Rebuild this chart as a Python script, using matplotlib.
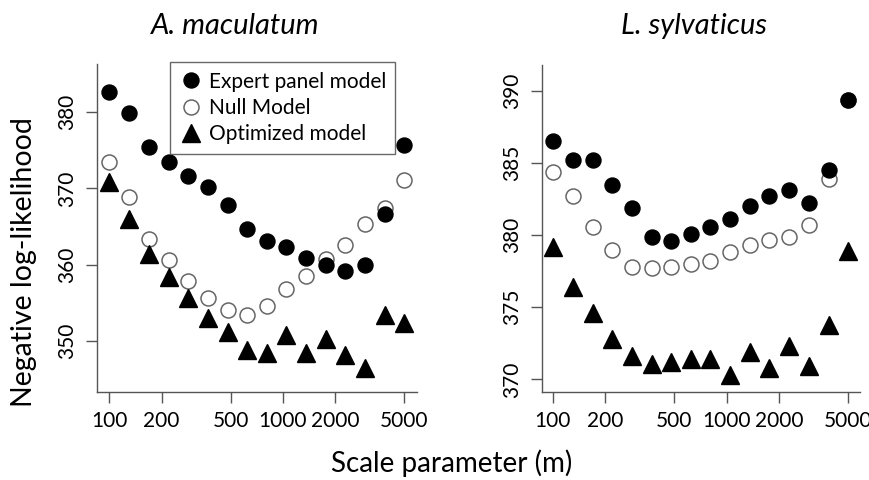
import matplotlib
matplotlib.use("Agg")
import matplotlib.pyplot as plt
from matplotlib.lines import Line2D

plt.rcParams['font.family'] = ['Lato', 'DejaVu Sans']

scale = [100, 130, 170, 220, 285, 370, 480, 620, 805, 1045, 1360, 1760, 2285, 2970, 3850, 5000]

am_expert = [382.6, 379.9, 375.4, 373.5, 371.6, 370.2, 367.8, 364.7, 363.1, 362.4, 360.9, 360.0, 359.2, 360.0, 366.7, 375.7]
am_null = [373.5, 368.9, 363.4, 360.6, 357.9, 355.7, 354.1, 353.5, 354.6, 356.8, 358.5, 360.8, 362.6, 365.3, 367.4, 371.1]
am_opt = [370.8, 366.0, 361.4, 358.4, 355.6, 353.1, 351.2, 348.9, 348.5, 350.8, 348.5, 350.3, 348.2, 346.5, 353.4, 352.4]

ls_expert = [386.5, 385.2, 385.2, 383.5, 381.9, 379.9, 379.6, 380.1, 380.6, 381.1, 382.0, 382.7, 383.1, 382.2, 384.5, 389.4]
ls_null = [384.4, 382.7, 380.6, 379.0, 377.8, 377.7, 377.8, 378.0, 378.2, 378.8, 379.3, 379.7, 379.9, 380.7, 383.9, 389.4]
ls_opt = [379.2, 376.4, 374.6, 372.8, 371.6, 371.1, 371.2, 371.4, 371.4, 370.3, 371.9, 370.8, 372.3, 370.9, 373.8, 378.9]

xticks = [100, 200, 500, 1000, 2000, 5000]
am_yticks = [350, 360, 370, 380]
ls_yticks = [370, 375, 380, 385, 390]

fig = plt.figure(figsize=(8.69, 4.80), dpi=100)
axL = fig.add_axes([0.1113, 0.184, 0.3682, 0.6827])
axR = fig.add_axes([0.6234, 0.184, 0.3662, 0.6806])

axcol = '#555555'

def draw(ax, exp, nul, opt, yticks, xlim, ylim):
    ax.plot(scale, exp, 'o', color='black', ms=10.8, mec='black', zorder=3)
    ax.plot(scale, nul, 'o', mfc='white', mec='#666666', mew=1.1, ms=10.8, zorder=2)
    ax.plot(scale, opt, '^', color='black', ms=13.5, zorder=3)
    ax.set_xscale('log')
    ax.set_xlim(*xlim)
    ax.set_ylim(*ylim)
    ax.set_xticks(xticks)
    ax.set_xticklabels([str(t) for t in xticks])
    ax.xaxis.set_minor_locator(matplotlib.ticker.NullLocator())
    ax.set_yticks(yticks)
    ax.set_yticklabels([str(t) for t in yticks], rotation=90, va='center')
    for s in ['top', 'right']:
        ax.spines[s].set_visible(False)
    for s in ['left', 'bottom']:
        ax.spines[s].set_color(axcol)
        ax.spines[s].set_linewidth(1.0)
    ax.tick_params(axis='both', length=8, width=1.0, color=axcol, labelsize=15, pad=6)

draw(axL, am_expert, am_null, am_opt, am_yticks, (84.6, 5896), (343.4, 386.3))
draw(axR, ls_expert, ls_null, ls_opt, ls_yticks, (86.5, 5834), (369.15, 391.8))

handles = [
    Line2D([], [], marker='o', ls='none', color='black', ms=10.8),
    Line2D([], [], marker='o', ls='none', mfc='white', mec='#666666', mew=1.1, ms=10.8),
    Line2D([], [], marker='^', ls='none', color='black', ms=13.5),
]
leg = axL.legend(handles, ['Expert panel model', 'Null Model', 'Optimized model'],
                 loc='upper left', bbox_to_anchor=(0.229, 1.005), fontsize=15,
                 frameon=True, fancybox=False, borderpad=0.45, labelspacing=0.3,
                 handletextpad=0.3, handlelength=1.1, borderaxespad=0)
leg.get_frame().set_edgecolor('#444444')
leg.get_frame().set_linewidth(1.0)

fig.text(0.271, 0.946, 'A. maculatum', style='italic', fontsize=21, ha='center', va='center')
fig.text(0.799, 0.946, 'L. sylvaticus', style='italic', fontsize=21, ha='center', va='center')
fig.text(0.028, 0.455, 'Negative log-likelihood', rotation=90, fontsize=20.5, ha='center', va='center')
fig.text(0.520, 0.035, 'Scale parameter (m)', fontsize=20, ha='center', va='center')

fig.savefig('out.png', dpi=100)
